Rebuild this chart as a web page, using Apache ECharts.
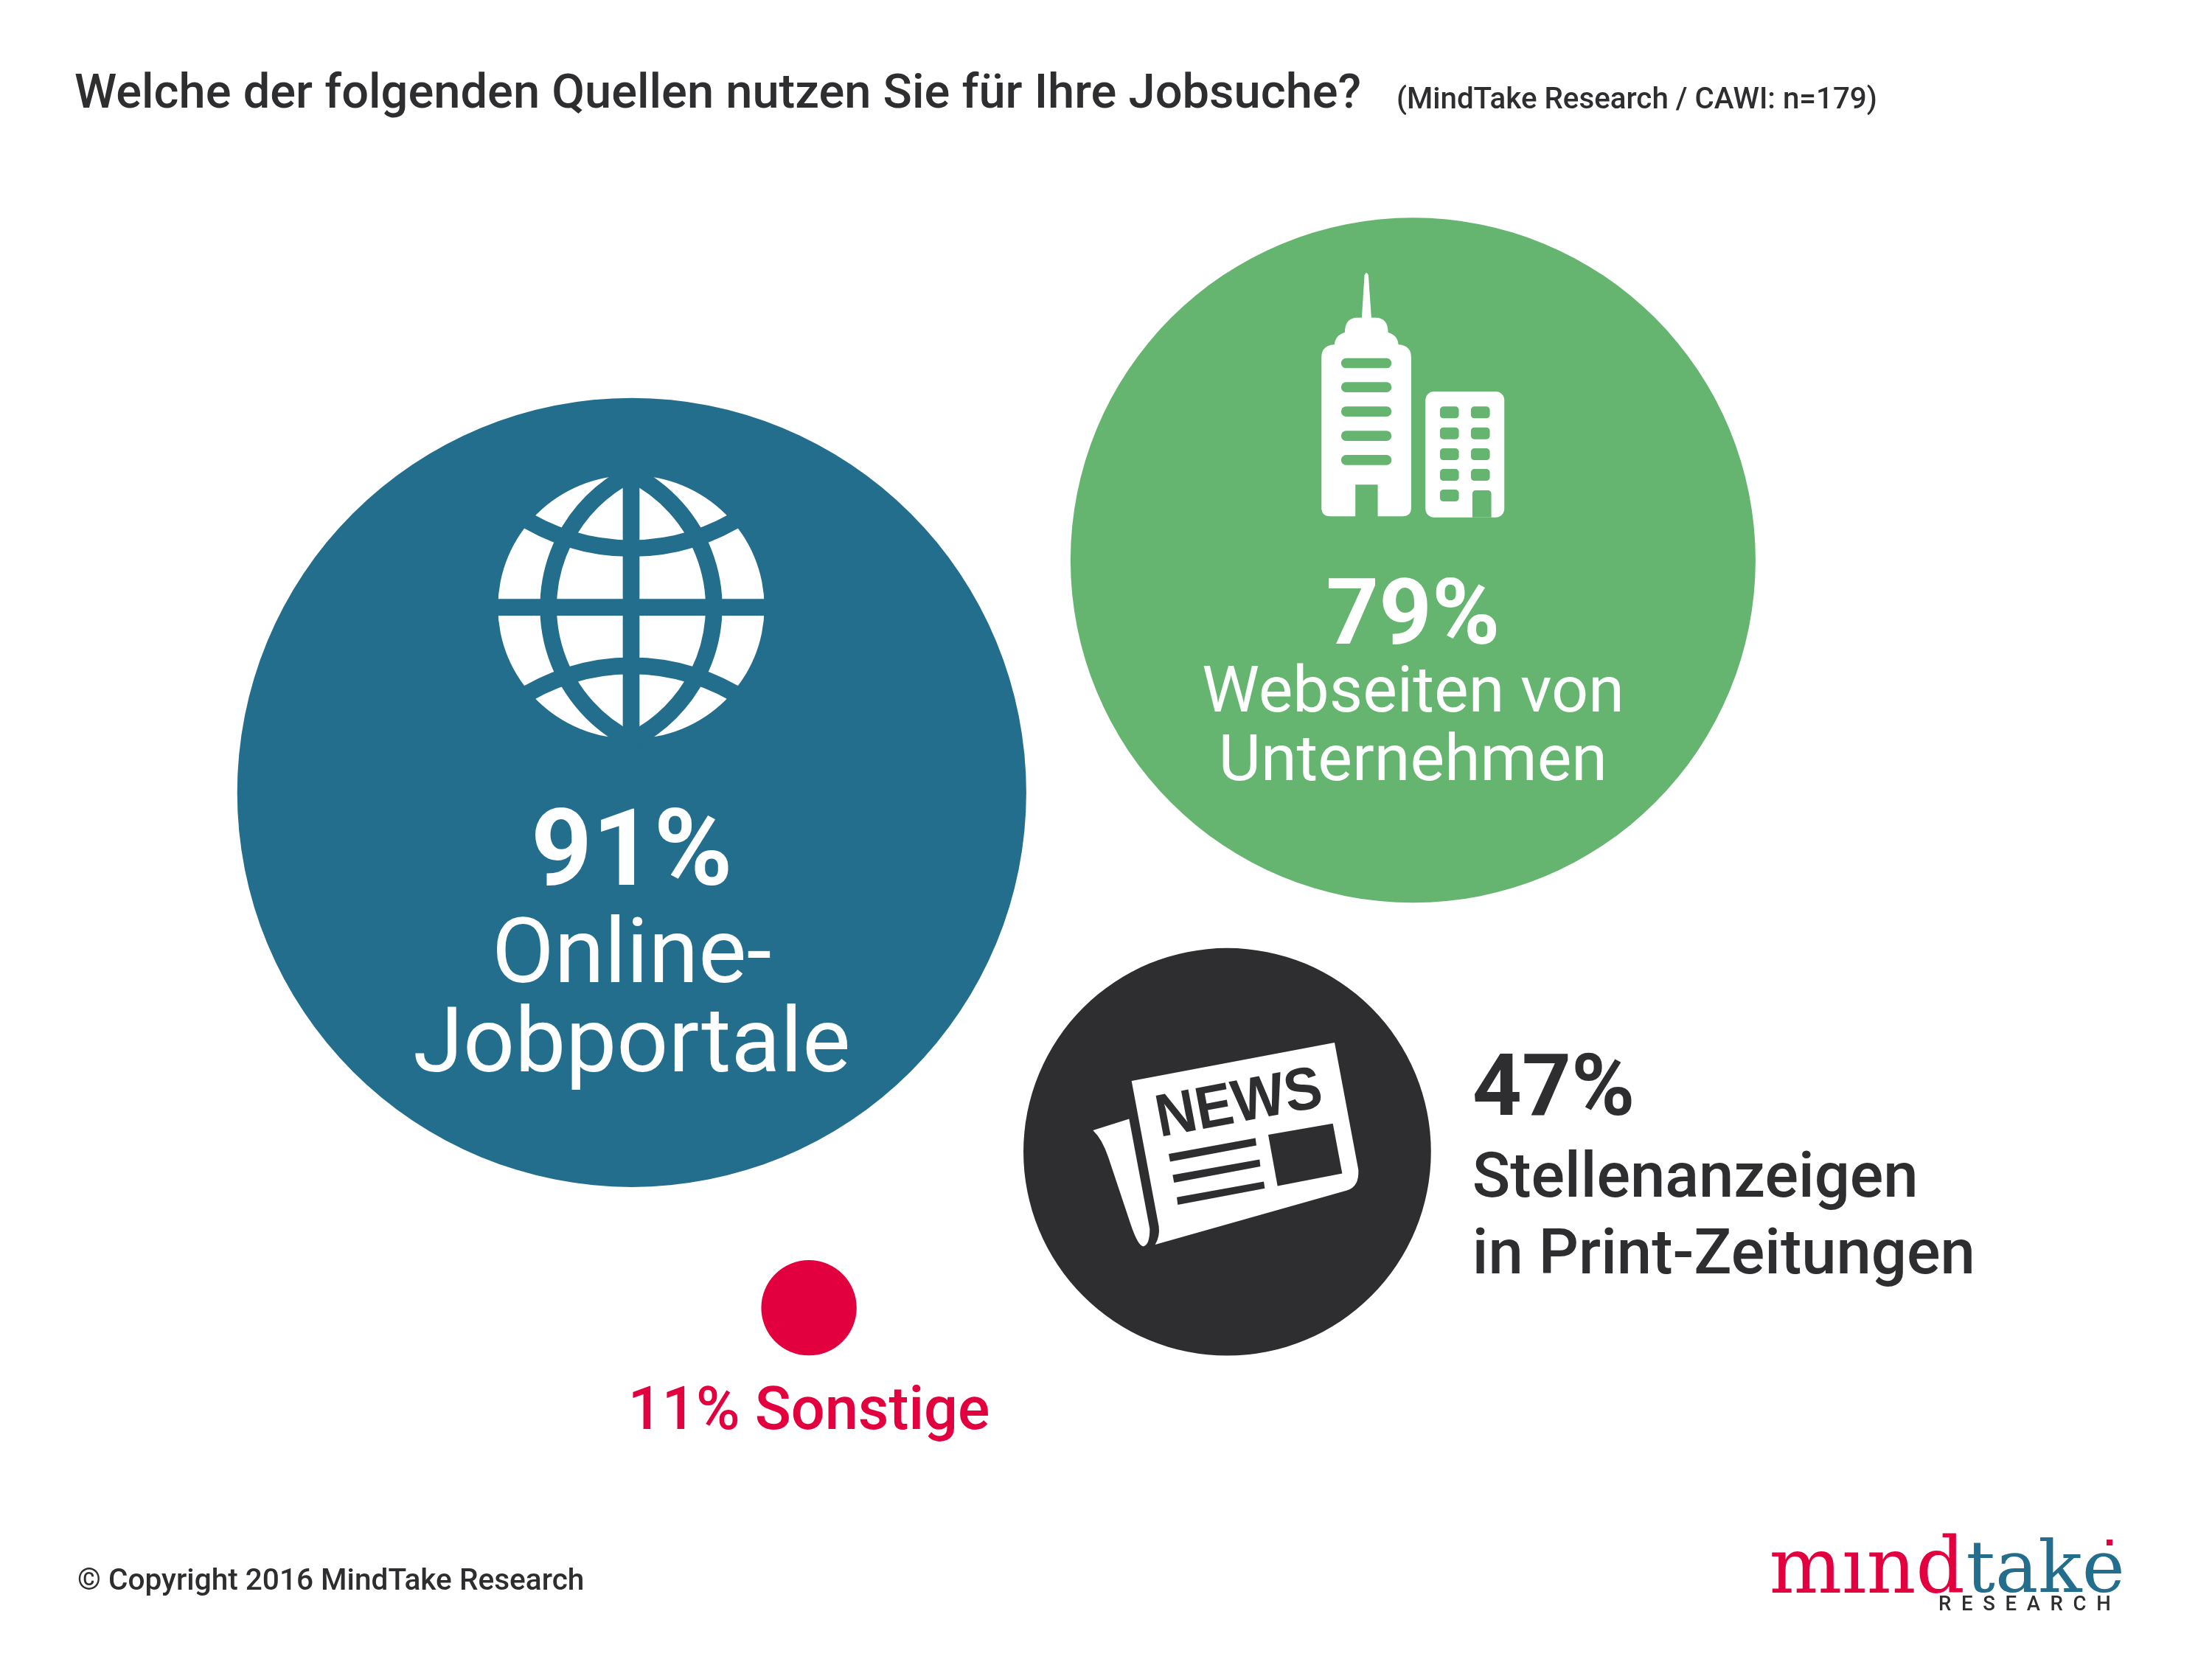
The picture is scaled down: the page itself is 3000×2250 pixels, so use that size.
<!DOCTYPE html>
<html>
<head>
<meta charset="utf-8">
<title>Jobsuche</title>
<style>
html, body { margin: 0; padding: 0; background: #fff; }
#main { width: 3000px; height: 2250px; }
</style>
<script src="https://cdn.jsdelivr.net/npm/echarts@6/dist/echarts.min.js"></script>
</head>
<body>
<div id="main"></div>
<script>
// values
var values = [91, 79, 47, 11];
var sourceNames = [
    ['Online-', 'Jobportale'],
    ['Webseiten von', 'Unternehmen'],
    ['Stellenanzeigen', 'in Print-Zeitungen'],
    ['Sonstige']
];
// bubble centres, in percent of chart width / height
var bubbleX = [28.56, 63.88, 55.48, 36.57];
var bubbleY = [47.77, 33.77, 69.43, 78.83];

var BLUE = '#236e8c', GREEN = '#65b570', DARK = '#2e2e30', RED = '#e2003f';
var bubbleColors = [BLUE, GREEN, DARK, RED];
var FONT = 'Roboto';

// diameter is proportional to the value in the original
var pxPerPoint = 11.76;

function solid(pathData, fill) {
    return { type: 'path', shape: { pathData: pathData }, style: { fill: fill || '#fff' } };
}
function band(pathData) {
    return { type: 'path', shape: { pathData: pathData }, style: { fill: 'none', stroke: BLUE, lineWidth: 68 } };
}
function hole(x, y, w, h, r, color) {
    return { type: 'rect', shape: { x: x, y: y, width: w, height: h, r: r }, style: { fill: color } };
}
function poly(points) {
    return { type: 'polygon', shape: { points: points }, style: { fill: DARK } };
}

// icons are written at 3x, offsets are from the bubble centre
function globeIcon() {
    return {
        dx: -256.8, dy: -474.8,
        children: [
            solid('M226 670 A542 536 0 1 1 1310 670 A542 536 0 1 1 226 670 Z'),
            band('M768 100 L768 1240'),
            band('M200 671 L1340 671'),
            band('M768 127 A606 606 0 0 1 768 1213 A606 606 0 0 1 768 127 Z'),
            band('M300 289 A841 841 0 0 0 1236 289'),
            band('M300 1051 A841 841 0 0 1 1236 1051')
        ]
    };
}
function buildingIcon() {
    var kids = [
        solid('M321 272 L332 100 Q340 80 348 100 L360 272 L380 272 Q428 275 428 332 Q468 345 470 382 Q522 385 522 435 L522 1045 Q522 1081 487 1081 L386 1081 L386 952 L295 952 L295 1081 L192 1081 Q157 1081 157 1045 L157 435 Q157 385 210 382 Q212 345 252 332 Q252 275 300 272 Z'),
        hole(580, 573, 321, 512, 35, '#fff')
    ];
    [437, 535, 634, 733, 831].forEach(function (y) {
        kids.push(hole(237, y, 205, 41, 20, GREEN));
    });
    [634, 719, 804, 888, 972].forEach(function (y, i) {
        kids.push(hole(639, y, 77, 48, 14, GREEN));
        if (i < 4) kids.push(hole(765, y, 77, 48, 14, GREEN));
    });
    kids.push(solid('M771 1085 L771 990 Q771 975 786 975 L833 975 Q848 975 848 990 L848 1085 Z', GREEN));
    return { dx: -176.5, dy: -419.8, children: kids };
}
function newsIcon() {
    return {
        dx: -224.4, dy: -182.1,
        children: [
            solid('M284 258 L1110 102 L1207 620 Q1210 690 1160 703 L380 924 Q400 890 395 850 Z'),
            solid('M127 459 L274 412 L358 860 Q358 925 332 931 Q310 930 280 840 L190 570 Q165 495 127 459 Z'),
            poly([[840, 477], [1103, 431], [1141, 634], [878, 685]]),
            poly([[435, 555], [788, 490], [792, 520], [441, 586]]),
            poly([[451, 640], [805, 577], [808, 606], [457, 672]]),
            poly([[468, 731], [822, 667], [826, 695], [472, 762]]),
            {
                type: 'text', x: 409, y: 540, rotation: 0.187, scaleX: 0.93, scaleY: 1,
                style: {
                    text: 'NEWS', fill: DARK, textAlign: 'left', textVerticalAlign: 'bottom',
                    font: 'bold 245px "Liberation Sans"'
                }
            }
        ]
    };
}
var iconBuilders = [globeIcon, buildingIcon, newsIcon];

function renderIcon(params, api) {
    var build = iconBuilders[api.value(2)];
    if (!build) return null;
    var c = api.coord([api.value(0), api.value(1)]);
    var icon = build();
    return {
        type: 'group',
        x: c[0] + icon.dx,
        y: c[1] + icon.dy,
        scaleX: 1 / 3,
        scaleY: 1 / 3,
        children: icon.children
    };
}

var myChart = echarts.init(document.getElementById('main'));

function richFormat(value, lines, nameKey) {
    return ['{pct|' + value + '%}'].concat(lines.map(function (l) {
        return '{' + nameKey + '|' + l + '}';
    })).join('\n');
}

var labelSettings = [
    {
        position: 'inside', offset: [0, 210],
        formatter: richFormat(values[0], sourceNames[0], 'name'),
        rich: {
            pct: { fontFamily: FONT, fontWeight: 'bold', fontSize: 145, color: '#fff', lineHeight: 154, align: 'center' },
            name: { fontFamily: FONT, fontWeight: 400, fontSize: 123, color: '#fff', lineHeight: 121, align: 'center' }
        }
    },
    {
        position: 'inside', offset: [0, 175],
        formatter: richFormat(values[1], sourceNames[1], 'name'),
        rich: {
            pct: { fontFamily: FONT, fontWeight: 'bold', fontSize: 125, color: '#fff', lineHeight: 109, align: 'center' },
            name: { fontFamily: FONT, fontWeight: 400, fontSize: 88, color: '#fff', lineHeight: 93, align: 'center' }
        }
    },
    {
        position: 'right', distance: 56, offset: [0, 25], align: 'left',
        formatter: richFormat(values[2], sourceNames[2], 'name'),
        rich: {
            pct: { fontFamily: FONT, fontWeight: 'bold', fontSize: 117, color: DARK, lineHeight: 133, align: 'left' },
            name: { fontFamily: FONT, fontWeight: 500, fontSize: 85, color: DARK, lineHeight: 104, align: 'left' }
        }
    },
    {
        position: 'bottom', distance: 34,
        formatter: '{name|' + values[3] + '% ' + sourceNames[3][0] + '}',
        rich: {
            name: { fontFamily: FONT, fontWeight: 500, fontSize: 81, color: RED, lineHeight: 90, align: 'center' }
        }
    }
];

var bubbleData = values.map(function (v, i) {
    return {
        value: [bubbleX[i], bubbleY[i], v],
        itemStyle: { color: bubbleColors[i], opacity: 1 },
        label: Object.assign({ show: true }, labelSettings[i])
    };
});

option = {
    animation: false,
    backgroundColor: '#fff',
    title: [
        {
            text: 'Welche der folgenden Quellen nutzen Sie für Ihre Jobsuche?',
            left: 96, top: 92,
            textStyle: { fontFamily: FONT, fontWeight: 500, fontSize: 65, color: DARK }
        },
        {
            text: '(MindTake Research / CAWI: n=179)',
            left: 1889, top: 112,
            textStyle: { fontFamily: FONT, fontWeight: 500, fontSize: 40.3, color: DARK }
        },
        {
            text: '© Copyright 2016 MindTake Research',
            left: 100, top: 2120,
            textStyle: { fontFamily: FONT, fontWeight: 500, fontSize: 40.6, color: DARK }
        }
    ],
    grid: { left: 0, right: 0, top: 0, bottom: 0 },
    xAxis: { type: 'value', min: 0, max: 100, show: false },
    yAxis: { type: 'value', min: 0, max: 100, inverse: true, show: false },
    graphic: [
        {
            type: 'text', left: 2397, top: 2078,
            style: {
                text: 'mınd', fill: RED, fontFamily: 'DejaVu Serif', fontSize: 104,
                stroke: '#fff', lineWidth: 5
            }
        },
        {
            type: 'text', left: 2664, top: 2082,
            style: {
                text: 'take', fill: BLUE, fontFamily: 'DejaVu Serif', fontSize: 98,
                stroke: '#fff', lineWidth: 5
            }
        },
        {
            type: 'rect', left: 2857, top: 2088,
            shape: { width: 8, height: 8 }, style: { fill: RED }
        },
        {
            type: 'text', left: 2629, top: 2163,
            style: {
                text: 'R  E  S  E  A  R  C  H', fill: DARK, fontFamily: FONT, fontSize: 27.5, fontWeight: 500
            }
        }
    ],
    series: [
        {
            name: 'Quellen',
            type: 'scatter',
            data: bubbleData,
            symbol: 'circle',
            symbolSize: function (val) {
                return val[2] * pxPerPoint;
            },
            silent: true
        },
        {
            name: 'Icons',
            type: 'custom',
            coordinateSystem: 'cartesian2d',
            silent: true,
            z: 3,
            clip: false,
            data: bubbleX.map(function (x, i) {
                return [x, bubbleY[i], i];
            }),
            encode: { x: 0, y: 1 },
            renderItem: renderIcon
        }
    ]
};

myChart.setOption(option);
</script>
</body>
</html>
